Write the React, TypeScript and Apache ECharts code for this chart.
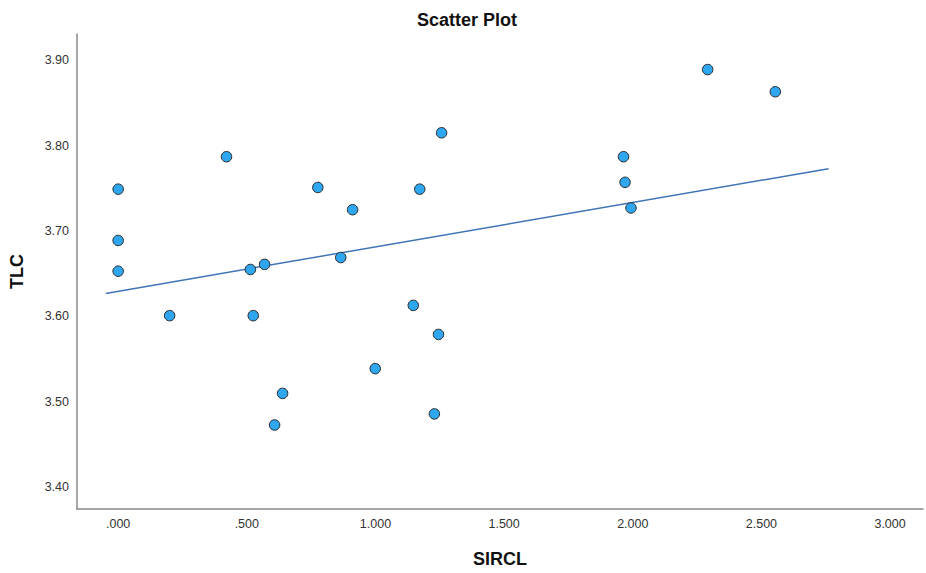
import React, { useEffect, useRef } from "react";
import * as echarts from "echarts";

const sircl = [0.0, 0.0, 0.0, 0.2, 0.421, 0.514, 0.569, 0.525, 0.776, 0.911, 0.865, 0.639, 0.608, 0.999, 1.147, 1.245, 1.229, 1.257, 1.172, 1.964, 1.97, 1.993, 2.291, 2.554];
const tlc = [3.749, 3.689, 3.653, 3.601, 3.787, 3.655, 3.661, 3.601, 3.751, 3.725, 3.669, 3.510, 3.473, 3.539, 3.613, 3.579, 3.486, 3.815, 3.749, 3.787, 3.757, 3.727, 3.889, 3.863];
const fitX = [-0.048, 2.761];
const fitY = [3.627, 3.773];
const xTicks = [0, 0.5, 1.0, 1.5, 2.0, 2.5, 3.0];
const yTicks = [3.4, 3.5, 3.6, 3.7, 3.8, 3.9];

export default function App() {
  const ref = useRef<HTMLDivElement>(null);
  useEffect(() => {
    if (!ref.current) return;
    const chart = echarts.init(ref.current, null, { renderer: "svg" });
    const font = "Liberation Sans, Arial, sans-serif";
    chart.setOption({
      animation: false,
      backgroundColor: "#ffffff",
      title: {
        text: "Scatter Plot",
        left: 412,
        top: 6,
        textStyle: { fontFamily: font, fontSize: 18, fontWeight: "bold", color: "#111" },
      },
      grid: { left: 77, right: 3, top: 34, bottom: 61, containLabel: false },
      xAxis: {
        type: "value",
        min: -0.16,
        max: 3.128,
        name: "SIRCL",
        nameLocation: "middle",
        nameGap: 41,
        nameTextStyle: { fontFamily: font, fontSize: 18, fontWeight: "bold", color: "#111" },
        axisLine: { show: true, onZero: false, lineStyle: { color: "#888", width: 1.5 } },
        axisTick: { show: false },
        splitLine: { show: false },
        axisLabel: {
          customValues: xTicks,
          fontFamily: font,
          fontSize: 12.5,
          color: "#333",
          margin: 8,
          formatter: (v: number) => v.toFixed(3).replace(/^0\./, "."),
        },
      },
      yAxis: {
        type: "value",
        min: 3.3747,
        max: 3.9306,
        name: "TLC",
        nameLocation: "middle",
        nameGap: 51,
        nameTextStyle: { fontFamily: font, fontSize: 18, fontWeight: "bold", color: "#111" },
        axisLine: { show: true, onZero: false, lineStyle: { color: "#888", width: 1.5 } },
        axisTick: { show: false },
        splitLine: { show: false },
        axisLabel: {
          customValues: yTicks,
          fontFamily: font,
          fontSize: 12.5,
          color: "#333",
          margin: 8,
          formatter: (v: number) => v.toFixed(2),
        },
      },
      series: [
        {
          type: "line",
          data: fitX.map((x, i) => [x, fitY[i]]),
          showSymbol: false,
          lineStyle: { color: "#3f74b7", width: 1.5 },
          z: 1,
        },
        {
          type: "scatter",
          data: sircl.map((x, i) => [x, tlc[i]]),
          symbol: "circle",
          symbolSize: 10.5,
          itemStyle: { color: "#2fa6f0", borderColor: "#2a2a2a", borderWidth: 1, opacity: 1 },
          z: 2,
        },
      ],
    });
    return () => chart.dispose();
  }, []);
  return (
    <div
      ref={ref}
      style={{ position: "fixed", left: 0, top: 0, width: 926, height: 573 }}
    />
  );
}
